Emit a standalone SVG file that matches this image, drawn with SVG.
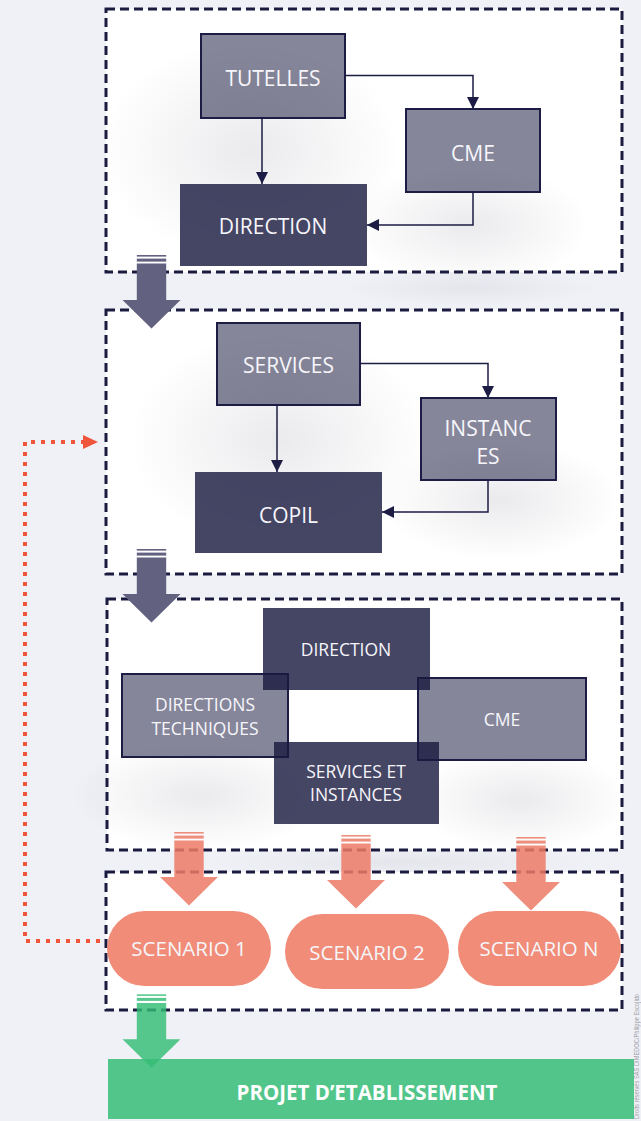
<svg xmlns="http://www.w3.org/2000/svg" width="641" height="1121" viewBox="0 0 641 1121">
<style>
.sec{fill:#ffffff;stroke:#1b1b40;stroke-width:3;stroke-dasharray:9 5}
.lt{fill:#1a1a40;fill-opacity:0.53;stroke:#1c1c44;stroke-width:2}
.dk{fill:#1a1a40;fill-opacity:0.81}
.t{font-family:"Open Sans","Noto Sans",sans-serif;fill:#f6f6fa;text-anchor:middle}
.t21{font-size:21px}
.t17{font-size:17.5px}
.t20{font-size:20.5px}
.con{fill:none;stroke:#1c1c44;stroke-width:1.5}
.gray{fill:#62617f}
.sal{fill:#ec7a66;fill-opacity:0.85}
.grn{fill:#33bd74;fill-opacity:0.82}
.pill{fill:#f08c78}
</style>
<defs>
<marker id="ah" markerUnits="userSpaceOnUse" markerWidth="12" markerHeight="12" refX="12" refY="6" orient="auto">
<path d="M0,0 L12,6 L0,12 z" fill="#1c1c44"/>
</marker>
<marker id="ahr" markerUnits="userSpaceOnUse" markerWidth="15" markerHeight="14" refX="0" refY="7" orient="auto">
<path d="M0,0 L15,7 L0,14 z" fill="#ef553a"/>
</marker>
<radialGradient id="sh">
<stop offset="0" stop-color="#30304a" stop-opacity="0.10"/>
<stop offset="1" stop-color="#30304a" stop-opacity="0"/>
</radialGradient>
<g id="bigarrow">
<rect x="-14.7" y="0" width="29.4" height="1.6"/>
<rect x="-14.7" y="3.6" width="29.4" height="3"/>
<path d="M-14.7,8.6 H14.7 V45 H29 L0,73.5 L-29,45 H-14.7 Z"/>
</g>
</defs>
<rect width="641" height="1121" fill="#f0f1f6"/>
<ellipse cx="470" cy="288" rx="130" ry="18" fill="url(#sh)" opacity="0.6"/>
<ellipse cx="400" cy="862" rx="200" ry="16" fill="url(#sh)" opacity="0.6"/>

<g id="section1">
<rect class="sec" x="106" y="9" width="516" height="263"/>
<ellipse cx="250" cy="150" rx="150" ry="110" fill="url(#sh)"/>
<ellipse cx="470" cy="225" rx="120" ry="60" fill="url(#sh)"/>
</g>
<g id="section2">
<rect class="sec" x="106" y="310" width="516" height="264"/>
<ellipse cx="280" cy="440" rx="150" ry="110" fill="url(#sh)"/>
<ellipse cx="500" cy="500" rx="120" ry="60" fill="url(#sh)"/>
</g>
<g id="section3">
<rect class="sec" x="107" y="599" width="515" height="251"/>
<ellipse cx="200" cy="795" rx="130" ry="55" fill="url(#sh)"/>
<ellipse cx="520" cy="800" rx="110" ry="50" fill="url(#sh)"/>
</g>
<g id="section4">
<rect class="sec" x="106" y="872" width="516" height="138"/>
</g>

<g id="tutelles">
<rect class="lt" x="201" y="34" width="144" height="84"/>
<text class="t t21" x="273" y="85.5">TUTELLES</text>
</g>
<g id="cme1">
<rect class="lt" x="406" y="109" width="134" height="83"/>
<text class="t t21" x="473" y="161">CME</text>
</g>
<g id="direction1">
<rect class="dk" x="180" y="184" width="187" height="82"/>
<text class="t t21" x="273" y="234">DIRECTION</text>
</g>

<g id="services">
<rect class="lt" x="217" y="323" width="143" height="82"/>
<text class="t t21" x="288.5" y="373">SERVICES</text>
</g>
<g id="instances">
<rect class="lt" x="421" y="398" width="135" height="82"/>
<text class="t t21" x="488" y="436">INSTANC</text>
<text class="t t21" x="488" y="464">ES</text>
</g>
<g id="copil">
<rect class="dk" x="195" y="472" width="187" height="81"/>
<text class="t t21" x="288.5" y="522.5">COPIL</text>
</g>

<g id="dirtech">
<rect class="lt" x="122" y="674" width="166" height="83"/>
<text class="t t17" x="205" y="711">DIRECTIONS</text>
<text class="t t17" x="205" y="734.5">TECHNIQUES</text>
</g>
<g id="cme3">
<rect class="lt" x="418" y="678" width="168" height="82"/>
<text class="t t17" x="502" y="725.5">CME</text>
</g>
<g id="direction3">
<rect class="dk" x="263" y="608" width="167" height="82"/>
<text class="t t17" x="346" y="656">DIRECTION</text>
</g>
<g id="servinst">
<rect class="dk" x="274" y="742" width="165" height="82"/>
<text class="t t17" x="356" y="778">SERVICES ET</text>
<text class="t t17" x="356" y="801">INSTANCES</text>
</g>

<g id="arrows-big">
<use href="#bigarrow" class="gray" x="151.5" y="255"/>
<use href="#bigarrow" class="gray" x="151.5" y="549"/>
<use href="#bigarrow" class="sal" x="189" y="832"/>
<use href="#bigarrow" class="sal" x="356" y="835"/>
<use href="#bigarrow" class="sal" x="531" y="837"/>
</g>

<g id="scenario1">
<rect class="pill" x="107" y="911" width="164" height="75" rx="37.5"/>
<text class="t t20" x="189" y="956.3">SCENARIO 1</text>
</g>
<g id="scenario2">
<rect class="pill" x="285" y="914" width="164" height="75" rx="37.5"/>
<text class="t t20" x="367" y="960">SCENARIO 2</text>
</g>
<g id="scenarioN">
<rect class="pill" x="458" y="911" width="163" height="75" rx="37.5"/>
<text class="t t20" x="539" y="956.3">SCENARIO N</text>
</g>

<g id="projet">
<rect x="108" y="1059" width="526" height="60" fill="#52c68a"/>
<text x="367" y="1100" font-family="'Open Sans','Noto Sans',sans-serif" font-size="20.5" font-weight="bold" fill="#ffffff" text-anchor="middle">PROJET D’ETABLISSEMENT</text>
</g>
<use href="#bigarrow" class="grn" x="151.5" y="994.3"/>

<g id="connectors">
<path class="con" d="M345,75.5 H473 V109" marker-end="url(#ah)"/>
<path class="con" d="M262,118 V184" marker-end="url(#ah)"/>
<path class="con" d="M473,192 V225 H367" marker-end="url(#ah)"/>
<path class="con" d="M360,363.5 H488 V398" marker-end="url(#ah)"/>
<path class="con" d="M277,405 V472" marker-end="url(#ah)"/>
<path class="con" d="M488,480 V512 H382" marker-end="url(#ah)"/>
<path d="M100,941 H25 V442 H83" fill="none" stroke="#ef553a" stroke-width="4" stroke-dasharray="4 6" marker-end="url(#ahr)"/>
</g>

<text transform="translate(639,1119) rotate(-90)" font-family="'Liberation Sans',sans-serif" font-size="6.5" fill="#a0a0a8" textLength="125" lengthAdjust="spacingAndGlyphs">Droits réservés SAS DIMEDOC/Philippe Escojido</text>
</svg>
